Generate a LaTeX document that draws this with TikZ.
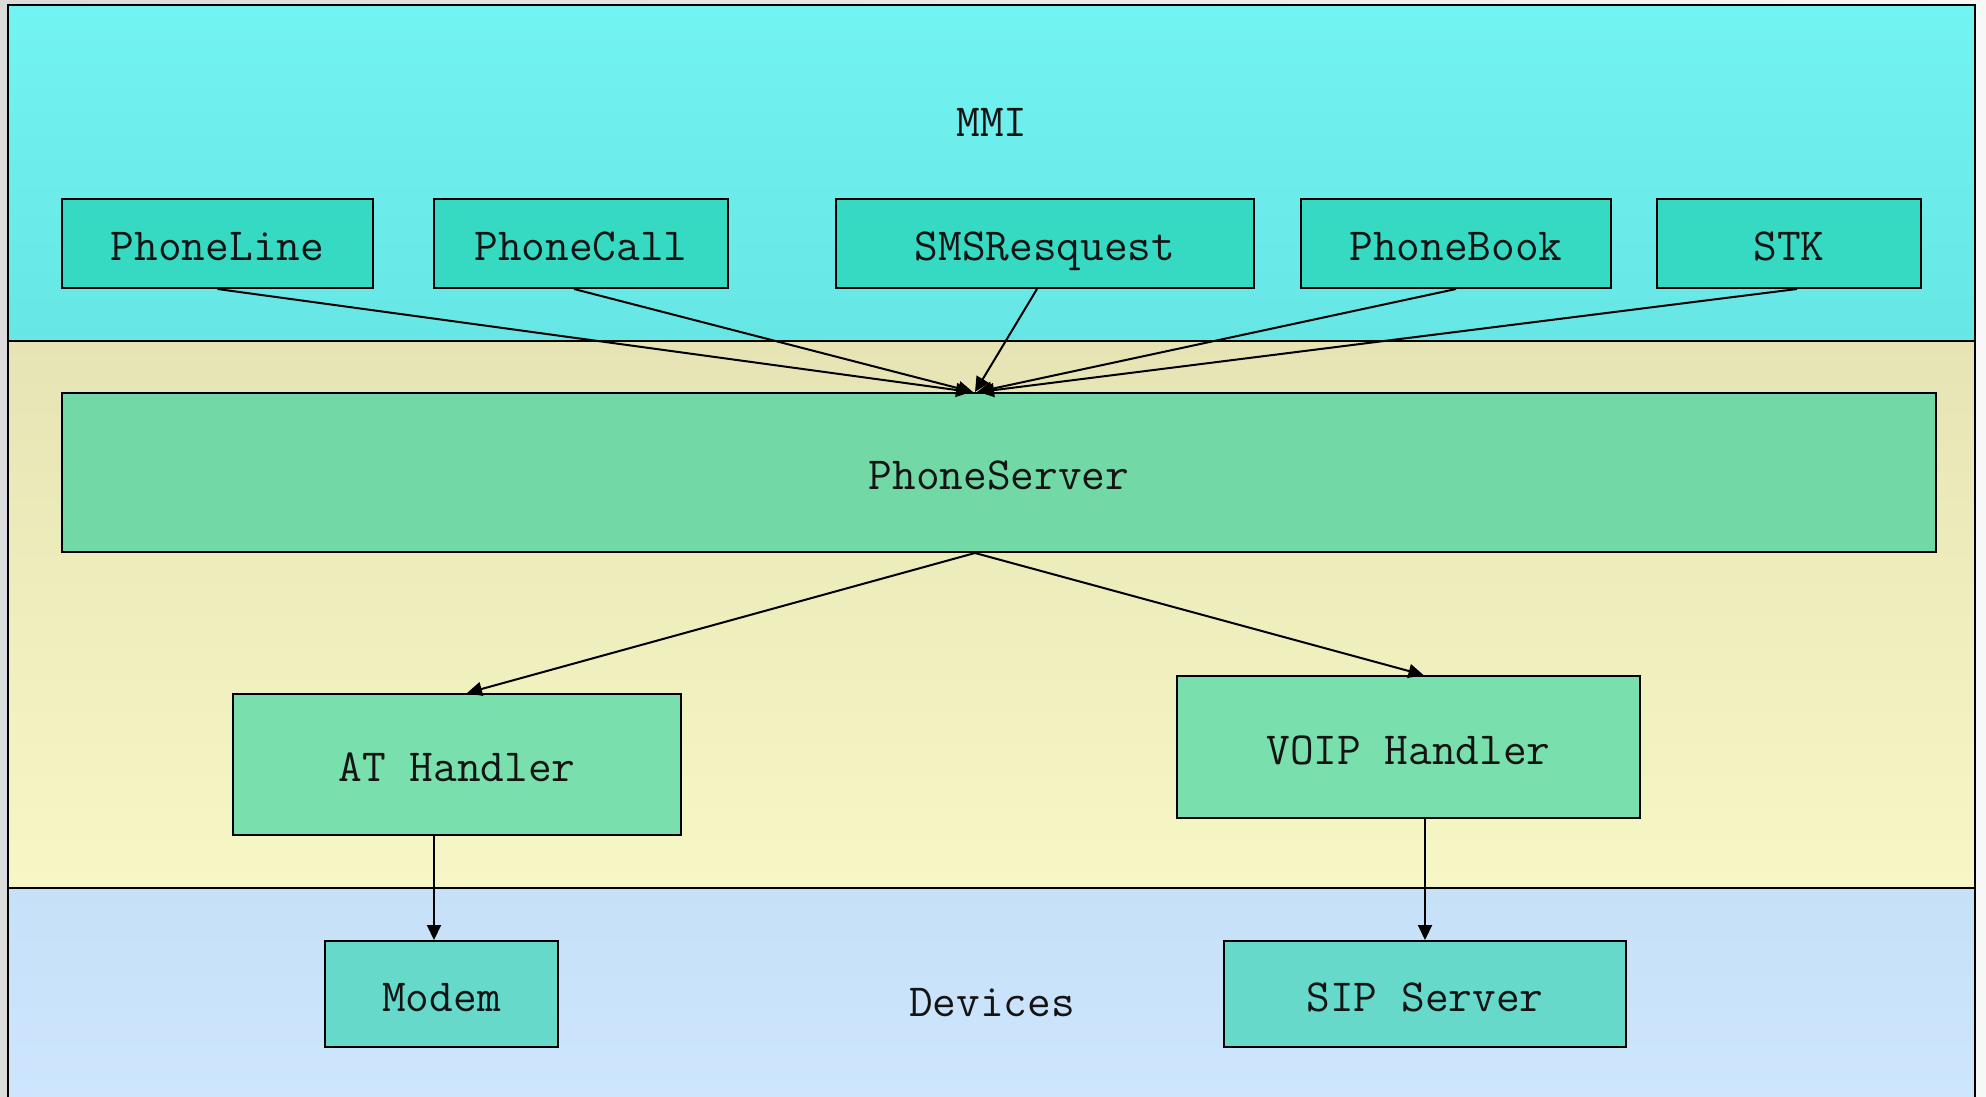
\documentclass[tikz,border=0pt]{standalone}
\usetikzlibrary{arrows.meta,calc}
\definecolor{mmitop}{HTML}{72F4F2}
\definecolor{mmibot}{HTML}{66E6E4}
\definecolor{midtop}{HTML}{E6E4B4}
\definecolor{midbot}{HTML}{F7F7C6}
\definecolor{devtop}{HTML}{C6E0F8}
\definecolor{devbot}{HTML}{CDE6FD}
\definecolor{topbox}{HTML}{36DAC2}
\definecolor{srvbox}{HTML}{72D9A6}
\definecolor{hdlbox}{HTML}{79E0AD}
\definecolor{devbox}{HTML}{66D9CB}
\begin{document}
\begin{tikzpicture}[x=0.5pt,y=-0.5pt,
  every node/.style={font=\ttfamily\fontsize{23pt}{27pt}\selectfont, text=black!92, text height=17pt, text depth=0pt},
  bx/.style={draw=black, line width=1pt, inner sep=0pt, fill=#1},
  conn/.style={draw=black, line width=1pt, -{Triangle[length=7.5pt,width=7pt]}},
  lay/.style={draw=black, line width=1.2pt}]
% background
\shade[left color=gray!28, right color=gray!6] (0,0) rectangle (1986,1097);
\useasboundingbox (0,0) rectangle (1986,1097);
% layers
\shade[top color=mmitop, bottom color=mmibot] (8,5) rectangle (1975,341);
\shade[top color=midtop, bottom color=midbot] (8,341) rectangle (1975,888);
\shade[top color=devtop, bottom color=devbot] (8,888) rectangle (1975,1097);
\draw[lay] (8,1097) -- (8,5) -- (1975,5) -- (1975,1097);
\draw[lay] (8,341) -- (1975,341);
\draw[lay] (8,888) -- (1975,888);
% layer labels
\node (mmi) at (992,120) {MMI};
\node (devices) at (992,999) {Devices};
% top boxes
\node[bx=topbox, minimum width=155.5pt, minimum height=44.5pt] (line) at (217.5,243.5) {PhoneLine};
\node[bx=topbox, minimum width=147pt, minimum height=44.5pt] (call) at (581,243.5) {PhoneCall};
\node[bx=topbox, minimum width=209pt, minimum height=44.5pt] (sms) at (1045,243.5) {SMSResquest};
\node[bx=topbox, minimum width=155pt, minimum height=44.5pt] (book) at (1456,243.5) {PhoneBook};
\node[bx=topbox, minimum width=132pt, minimum height=44.5pt] (stk) at (1789,243.5) {STK};
% server
\node[bx=srvbox, minimum width=937pt, minimum height=79.5pt] (srv) at (999,472.5) {PhoneServer};
% handlers
\node[bx=hdlbox, minimum width=224pt, minimum height=70.5pt] (at) at (457,764.5) {AT Handler};
\node[bx=hdlbox, minimum width=231.5pt, minimum height=71pt] (voip) at (1408.5,747) {VOIP Handler};
% devices
\node[bx=devbox, minimum width=116.5pt, minimum height=53pt] (modem) at (441.5,994) {Modem};
\node[bx=devbox, minimum width=201pt, minimum height=53pt] (sip) at (1425,994) {SIP Server};
% connectors
\coordinate (sin) at ($(srv.north)+(-12pt,0)$);
\coordinate (sout) at ($(srv.south)+(-12pt,0)$);
\draw[conn] (line.south) -- ($(sin)+(-2pt,0)$);
\draw[conn] ($(call.south)+(-3.5pt,0)$) -- ($(sin)+(-1pt,0)$);
\draw[conn] ($(sms.south)+(-4pt,0)$) -- (sin);
\draw[conn] (book.south) -- ($(sin)+(1pt,0)$);
\draw[conn] ($(stk.south)+(4pt,0)$) -- ($(sin)+(2pt,0)$);
\draw[conn] (sout) -- ($(at.north)+(5pt,0)$);
\draw[conn] (sout) -- ($(voip.north)+(7.5pt,0)$);
\draw[conn] ($(at.south)+(-11.5pt,0)$) -- ($(modem.north)+(-3.75pt,0)$);
\draw[conn] ($(voip.south)+(8.25pt,0)$) -- (sip.north);
\end{tikzpicture}
\end{document}
